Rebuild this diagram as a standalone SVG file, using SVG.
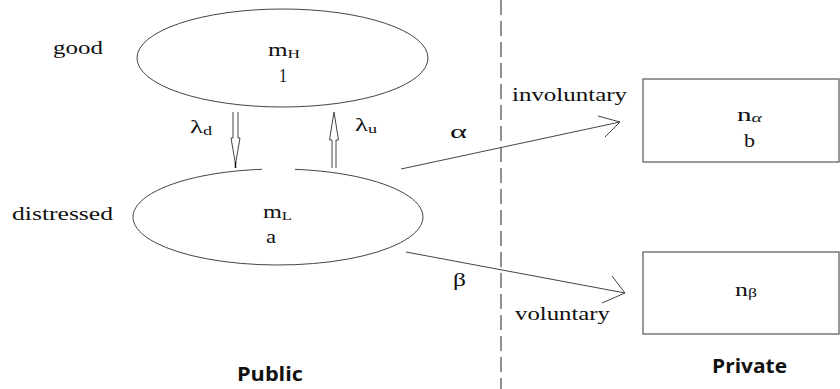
<svg xmlns="http://www.w3.org/2000/svg" width="840" height="389" viewBox="0 0 840 389">
<defs>
<style>
.s{font-family:"Liberation Serif","Times New Roman",serif;font-size:19px;fill:#111}
.b{font-family:"Open Sans","DejaVu Sans",sans-serif;font-size:19px;font-weight:bold;fill:#111}
.sub{font-size:13px}
.ln{fill:none;stroke:#444;stroke-width:1}
.box{fill:#fff;stroke:#555;stroke-width:1.2}
</style>
</defs>
<rect width="840" height="389" fill="#fff"/>
<line x1="501" y1="0" x2="501" y2="389" stroke="#555" stroke-width="1.3" stroke-dasharray="15 6"/>
<g id="good">
<ellipse class="ln" cx="282.5" cy="58" rx="145.5" ry="49"/>
<text class="s" x="268" y="56" textLength="32" lengthAdjust="spacingAndGlyphs">m<tspan class="sub" dy="2">H</tspan></text>
<text class="s" x="279" y="82" textLength="8" lengthAdjust="spacingAndGlyphs">1</text>
</g>
<g id="distressed">
<path class="ln" d="M295 169.33 A145 48 0 1 1 262 169.29"/>
<text class="s" x="263" y="218" textLength="29" lengthAdjust="spacingAndGlyphs">m<tspan class="sub" dy="2">L</tspan></text>
<text class="s" x="266" y="243" textLength="10" lengthAdjust="spacingAndGlyphs">a</text>
</g>
<g id="n_alpha">
<rect class="box" x="643" y="79" width="196" height="83"/>
<text class="s" x="737" y="121" textLength="25" lengthAdjust="spacingAndGlyphs">n<tspan class="sub" dy="1" font-style="italic">α</tspan></text>
<text class="s" x="744" y="147" textLength="11" lengthAdjust="spacingAndGlyphs">b</text>
</g>
<g id="n_beta">
<rect class="box" x="643" y="252" width="196" height="82"/>
<text class="s" x="735" y="296" textLength="22" lengthAdjust="spacingAndGlyphs">n<tspan class="sub" dy="1">β</tspan></text>
</g>
<g id="labels">
<text class="s" x="53" y="54" textLength="50" lengthAdjust="spacingAndGlyphs">good</text>
<text class="s" x="12" y="220" textLength="101" lengthAdjust="spacingAndGlyphs">distressed</text>
<text class="b" x="237" y="381" textLength="66" lengthAdjust="spacingAndGlyphs">Public</text>
<text class="b" x="712" y="373" textLength="75" lengthAdjust="spacingAndGlyphs">Private</text>
</g>
<g id="connectors">
<path class="ln" d="M233 112 V138 H231 L235.5 164 L240 138 H238 V112" fill="#fff"/>
<line x1="235.5" y1="162" x2="235.5" y2="168" stroke="#111" stroke-width="1.5"/>
<text class="s" x="190" y="133" textLength="22" lengthAdjust="spacingAndGlyphs">λ<tspan class="sub" dy="2">d</tspan></text>
<path class="ln" d="M332 168 V140 H329.5 L334 112 L338.5 140 H336 V168" fill="#fff"/>
<text class="s" x="355" y="131" textLength="22" lengthAdjust="spacingAndGlyphs">λ<tspan class="sub" dy="2">u</tspan></text>
<line class="ln" x1="401" y1="169" x2="620" y2="122"/>
<polyline class="ln" points="598,116 620,122 605,137"/>
<text class="s" x="450" y="138" textLength="17" lengthAdjust="spacingAndGlyphs">α</text>
<text class="s" x="512" y="101" textLength="115" lengthAdjust="spacingAndGlyphs">involuntary</text>
<line class="ln" x1="406" y1="252" x2="625" y2="293"/>
<polyline class="ln" points="612,276 625,293 602,303"/>
<text class="s" x="453" y="286" textLength="13" lengthAdjust="spacingAndGlyphs">β</text>
<text class="s" x="515" y="320" textLength="95" lengthAdjust="spacingAndGlyphs">voluntary</text>
</g>
</svg>
